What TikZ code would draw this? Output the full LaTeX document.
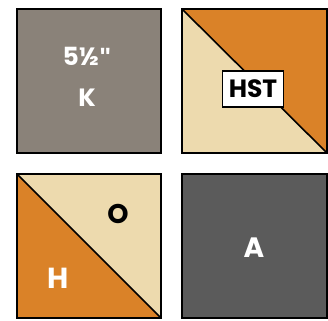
\documentclass[tikz,border=0pt]{standalone}
\usepackage{fontspec}
\setmainfont{Poppins}[BoldFont={* Bold}]
\newfontfamily\quotefont{Liberation Sans}
\definecolor{taupe}{HTML}{8A8279}
\definecolor{orng}{HTML}{DA8228}
\definecolor{tan}{HTML}{EDDAAE}
\definecolor{dgray}{HTML}{5B5B5B}
\tikzset{
  edge/.style={draw=black,line width=1.6pt},
  lbl/.style={font=\bfseries,text=white,inner sep=0pt},
}
\begin{document}
\begin{tikzpicture}[x=1pt,y=-1pt]
\useasboundingbox (0,0) rectangle (328,320);
% square 1
\fill[taupe] (17,9) rectangle (161,153);
\draw[edge] (17,9) rectangle (161,153);
\node[lbl,font=\bfseries\fontsize{25}{25}\selectfont] (t1) at (87,56) {5½{\quotefont\bfseries\char"22}};
\node[lbl,font=\bfseries\fontsize{25}{25}\selectfont] (t2) at (87,98) {K};
% square 2
\fill[tan] (182,9) -- (327,153) -- (182,153) -- cycle;
\fill[orng] (182,9) -- (327,9) -- (327,153) -- cycle;
\draw[edge] (182,9) rectangle (327,153);
\draw[edge] (182,9) -- (327,153);
\node[draw=black,line width=1.4pt,fill=white,minimum width=61pt,minimum height=36pt,inner sep=0pt,font=\bfseries\fontsize{25}{25}\selectfont] (hst) at (253,89) {HST};
% square 3
\fill[orng] (17,174) -- (161,318) -- (17,318) -- cycle;
\fill[tan] (17,174) -- (161,174) -- (161,318) -- cycle;
\draw[edge] (17,174) rectangle (161,318);
\draw[edge] (17,174) -- (161,318);
\node[lbl,text=black,font=\bfseries\fontsize{27}{27}\selectfont] (o) at (118,214) {O};
\node[lbl,font=\bfseries\fontsize{29}{29}\selectfont] (h) at (58,278) {H};
% square 4
\fill[dgray] (182,174) rectangle (327,318);
\draw[edge] (182,174) rectangle (327,318);
\node[lbl,font=\bfseries\fontsize{28}{28}\selectfont] (a) at (254,248) {A};
\end{tikzpicture}
\end{document}
